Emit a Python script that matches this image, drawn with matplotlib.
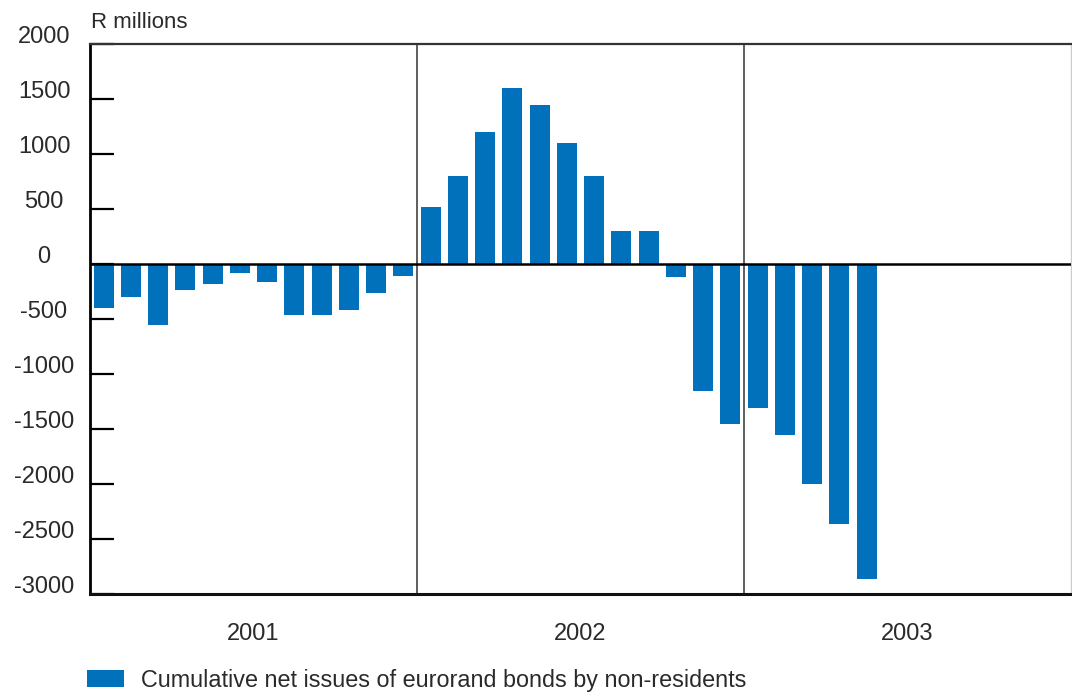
import numpy as np
import matplotlib
matplotlib.use("Agg")
import matplotlib.pyplot as plt
import matplotlib.transforms as mtransforms

plt.rcParams['font.family'] = ['Liberation Sans', 'DejaVu Sans']

# monthly values, R millions (Jan 2001 .. May 2003)
values_2001 = [-400, -300, -550, -240, -185, -85, -160, -460, -460, -415, -260, -110]
values_2002 = [520, 800, 1200, 1600, 1445, 1100, 800, 300, 300, -115, -1155, -1455]
values_2003 = [-1310, -1555, -2000, -2360, -2860]
years = ['2001', '2002', '2003']
yticks = [2000, 1500, 1000, 500, 0, -500, -1000, -1500, -2000, -2500, -3000]
series_label = 'Cumulative net issues of eurorand bonds by non-residents'
unit_label = 'R millions'

values = values_2001 + values_2002 + values_2003
x = np.arange(len(values)) + 0.5

bar_color = '#0071ba'
txt_color = '#2a2a2a'

fig = plt.figure(figsize=(10.72, 6.92), dpi=100)
ax = fig.add_axes([90 / 1072, 1 - 594 / 692, 981 / 1072, 550 / 692])

bars = ax.bar(x, values, width=0.73, color=bar_color, zorder=2, label=series_label)

ax.set_xlim(0, 36)
ax.set_ylim(-3000, 2000)

# zero line and year dividers
ax.axhline(0, color='black', lw=1.8, zorder=3)
for b in [12, 24]:
    ax.axvline(b, color='#333333', lw=1.1, zorder=1)

# spines
ax.spines['left'].set_linewidth(2.0)
ax.spines['left'].set_color('black')
ax.spines['bottom'].set_linewidth(2.2)
ax.spines['bottom'].set_color('#111111')
ax.spines['top'].set_linewidth(1.6)
ax.spines['top'].set_color('#333333')
ax.spines['right'].set_linewidth(1.0)
ax.spines['right'].set_color('#cccccc')

ax.set_xticks([])
ax.set_yticks(yticks)
ax.set_yticklabels([])
ax.tick_params(axis='y', direction='in', length=17, width=1.6, color='black')

# y tick labels, centered and lifted a little above the ticks
ytrans = mtransforms.blended_transform_factory(fig.transFigure, ax.transData)
for v in yticks:
    ax.annotate(str(v), xy=(44 / 1072, v), xycoords=ytrans,
                xytext=(0, 5), textcoords='offset points',
                ha='center', va='center', fontsize=17, color=txt_color,
                annotation_clip=False)

# year labels
xtrans = mtransforms.blended_transform_factory(ax.transData, ax.transAxes)
for i, yr in enumerate(years):
    ax.text(12 * i + 6, -0.073, yr, transform=xtrans, ha='center', va='center',
            fontsize=17, color=txt_color)

fig.text(91 / 1072, 1 - 22 / 692, unit_label, ha='left', va='center',
         fontsize=16, color=txt_color)

leg = fig.legend(handles=[bars], loc='center left',
                 bbox_to_anchor=(87 / 1072, 1 - 680 / 692),
                 frameon=False, fontsize=16.8, borderpad=0, borderaxespad=0,
                 handlelength=1.6, handleheight=0.7, handletextpad=0.7)
for t in leg.get_texts():
    t.set_color(txt_color)

fig.savefig('out.png', dpi=100)
